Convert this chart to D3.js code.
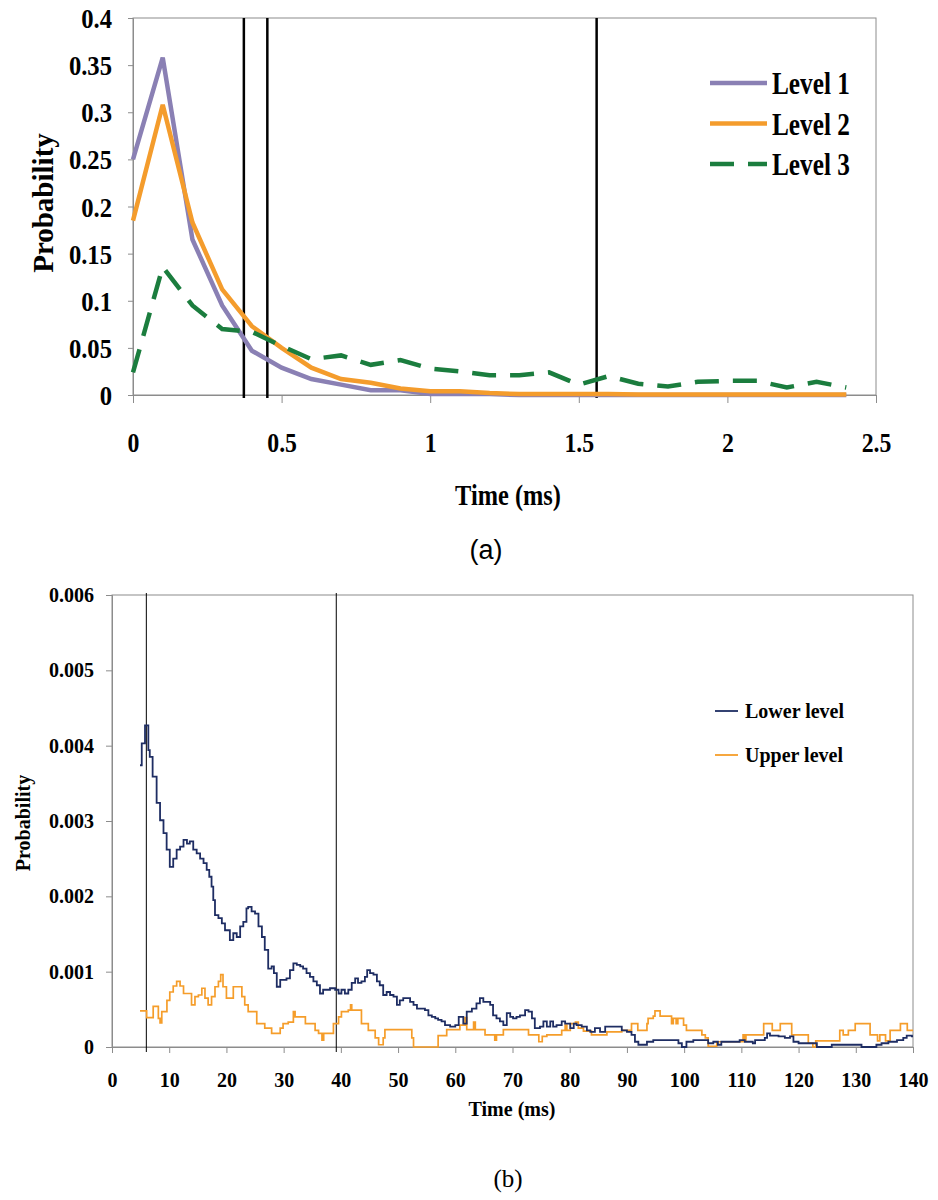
<!DOCTYPE html>
<html><head><meta charset="utf-8">
<script src="https://cdn.jsdelivr.net/npm/d3@7"></script>
<style>
body{margin:0;background:#fff;}
svg{display:block;}
.serif{font-family:"Liberation Serif","Times New Roman",serif;font-weight:bold;fill:#000;}
</style></head>
<body><svg id="chart" width="938" height="1200"></svg>
<script>
// ---------- Panel (a) data ----------
const timeA = [0,0.1,0.2,0.3,0.4,0.5,0.6,0.7,0.8,0.9,1.0,1.1,1.2,1.3,1.4,1.5,1.6,1.7,1.8,1.9,2.0,2.1,2.2,2.3,2.4];
const level1 = [0.25,0.358,0.165,0.095,0.047,0.029,0.017,0.011,0.005,0.005,0.001,0.001,0.001,0,0,0,0,0,0,0,0,0,0,0,0];
const level2 = [0.185,0.308,0.183,0.112,0.073,0.05,0.029,0.017,0.013,0.007,0.004,0.004,0.002,0.001,0.001,0.001,0.001,0.0005,0.0005,0.0005,0.0005,0.0005,0.0005,0.0005,0.0005];
const level3 = [0.024,0.136,0.095,0.07,0.067,0.052,0.038,0.042,0.032,0.037,0.028,0.025,0.021,0.021,0.024,0.011,0.02,0.012,0.009,0.014,0.015,0.015,0.008,0.014,0.008];
const markersA = [0.373,0.452,1.56];
const yTicksA = [0,0.05,0.1,0.15,0.2,0.25,0.3,0.35,0.4];
const yLabelsA = ["0","0.05","0.1","0.15","0.2","0.25","0.3","0.35","0.4"];
const xTicksA = [0,0.5,1,1.5,2,2.5];
const xLabelsA = ["0","0.5","1","1.5","2","2.5"];
const seriesNamesA = ["Level 1","Level 2","Level 3"];

// ---------- Panel (b) data (time ms, probability) ----------
const lowerT = [4.9,5.2,5.77,6.35,6.6,7.1,7.8,8.4,9.0,9.55,10.1,10.7,11.3,11.9,12.5,13.1,13.6,14.2,14.8,15.4,16.0,16.55,17.0,17.4,17.7,18.0,18.6,19.2,19.75,20.6,21.2,21.8,22.4,22.95,23.5,23.8,24.4,25.0,25.6,26.2,26.7,27.3,27.9,28.3,28.8,29.4,29.95,30.5,31.1,31.7,32.3,32.9,33.4,34.0,34.6,35.2,35.8,36.35,36.9,38.1,39.0,39.6,40.1,40.7,41.3,41.9,42.5,43.0,43.6,44.2,44.6,45.1,45.7,46.3,46.8,47.4,48.0,48.6,49.2,49.8,50.3,50.9,51.5,52.1,52.7,53.3,54.7,55.3,55.9,56.5,57.0,57.6,58.2,59.1,60.0,60.6,61.4,62.0,62.9,63.7,64.3,64.9,66.1,66.6,67.2,67.8,68.4,69.0,69.6,70.1,70.7,71.3,72.2,72.8,73.4,73.9,74.8,75.4,76.0,76.6,77.1,77.7,78.6,79.2,80.1,80.7,81.2,82.1,83.0,83.6,84.4,85.3,86.2,88.2,89.1,90.0,90.8,91.4,92.0,93.5,94.6,99.0,99.6,100.4,101.6,104.2,105.1,105.9,106.5,109.7,110.6,112.0,112.4,114.1,114.5,115.0,116.5,117.6,118.5,119.1,120.0,123.2,125.8,129.9,131.0,133.6,134.5,135.7,137.2,138.3,138.9,139.8,140];
const lowerV = [0.00374,0.00403,0.00427,0.00394,0.00385,0.00359,0.00324,0.00301,0.00284,0.00262,0.00239,0.0025,0.00262,0.00266,0.00275,0.0027,0.00273,0.00262,0.00257,0.0025,0.00244,0.00235,0.00226,0.00213,0.00195,0.00175,0.00171,0.00164,0.00155,0.00142,0.00151,0.00146,0.0016,0.00166,0.00184,0.00186,0.0018,0.00177,0.0016,0.00146,0.00129,0.00104,0.00107,0.00098,0.0008,0.00089,0.00089,0.00091,0.00102,0.00111,0.00109,0.00107,0.00104,0.00098,0.00093,0.00087,0.00082,0.00071,0.00076,0.00078,0.00076,0.00071,0.00076,0.00071,0.00076,0.00085,0.00091,0.00085,0.00087,0.00093,0.00102,0.00098,0.00096,0.00087,0.00082,0.00069,0.00073,0.00069,0.00067,0.00056,0.00062,0.00065,0.00065,0.0006,0.00056,0.00051,0.00049,0.00042,0.0004,0.00038,0.00036,0.00034,0.00029,0.00027,0.00029,0.0004,0.00031,0.00047,0.00051,0.00058,0.00065,0.0006,0.00056,0.00042,0.00038,0.00034,0.00029,0.00045,0.0004,0.00038,0.0004,0.00042,0.00049,0.00047,0.00038,0.00025,0.00027,0.00034,0.00027,0.00034,0.00027,0.00029,0.00034,0.00031,0.00025,0.00031,0.00029,0.00027,0.00022,0.0002,0.00025,0.0002,0.00027,0.00027,0.00022,0.0002,0.00016,0.00007,0.00003,0.00007,0.00009,0.00005,0,0.00007,0.00009,0.00005,0.00007,0.00003,0.00007,0.00009,0.00007,0.00005,0.00009,0.00012,0.00018,0.00015,0.00014,0.00012,0.00014,0.00007,0.00005,0,0.00003,0.00003,0,0.00003,0.00005,0.00007,0.00009,0.00012,0.00015,0.00014,0.00014];
const upperT = [4.9,6.06,7.2,8.1,8.4,8.7,9.6,10.1,10.7,11.3,11.9,12.5,13.9,14.5,15.1,15.7,16.25,16.8,17.4,18.0,18.6,19.0,19.4,20.0,21.2,22.7,23.2,23.8,25.3,26.7,27.9,29.4,29.9,30.8,31.7,32.0,33.8,35.5,36.1,36.7,37.0,38.7,39.6,40.1,41.3,41.7,41.9,43.6,44.8,46.0,46.6,47.4,47.7,52.4,52.7,57.0,58.5,60.8,61.7,62.0,63.2,63.5,65.2,66.9,67.2,68.4,72.8,74.6,75.2,76.0,78.6,79.2,79.5,80.1,81.0,81.5,82.4,83.8,86.5,89.1,90.8,91.9,93.5,93.7,94.6,94.9,95.8,97.8,98.1,98.6,98.9,99.9,100.4,103.1,103.7,104.2,105.7,110.3,110.6,110.8,113.9,115.4,116.8,118.8,121.7,122.5,123.0,127.2,127.8,128.7,129.9,132.5,133.8,134.2,135.2,136.0,137.8,139.0,140];
const upperV = [0.00048,0.00039,0.00054,0.00038,0.00032,0.00047,0.00062,0.00073,0.00081,0.00087,0.00081,0.00071,0.00056,0.00067,0.00069,0.00078,0.00065,0.00056,0.00067,0.0008,0.00087,0.00096,0.0008,0.00065,0.0008,0.00067,0.00056,0.00047,0.00031,0.00025,0.00018,0.00025,0.00031,0.00033,0.00047,0.0004,0.00031,0.00022,0.00018,0.00009,0.00018,0.00031,0.0004,0.00047,0.00049,0.00056,0.00049,0.00031,0.00022,0.00012,0.00003,0.00012,0.00023,0.00012,0,0.00015,0.00023,0.00029,0.00039,0.00023,0.00033,0.00023,0.00016,0.00009,0.00016,0.00023,0.00016,0.00007,0.00014,0.00016,0.00022,0.00029,0.00022,0.00031,0.00033,0.00025,0.00021,0.00016,0.0002,0.00022,0.00031,0.00022,0.00031,0.00038,0.00041,0.00048,0.00041,0.00031,0.00038,0.00031,0.00038,0.00029,0.00022,0.00016,0.00012,0.00001,0.00007,0.00016,0.00009,0.00016,0.00031,0.00022,0.00031,0.00016,0.00005,0,0.00008,0.00022,0.00016,0.00022,0.00031,0.00016,0.00008,0.00016,0.00008,0.00022,0.00031,0.00022,0.00022];
const markersB = [6,39.2];
const yTicksB = [0,0.001,0.002,0.003,0.004,0.005,0.006];
const yLabelsB = ["0","0.001","0.002","0.003","0.004","0.005","0.006"];
const xTicksB = [0,10,20,30,40,50,60,70,80,90,100,110,120,130,140];
const xLabelsB = ["0","10","20","30","40","50","60","70","80","90","100","110","120","130","140"];
const seriesNamesB = ["Lower level","Upper level"];

const svg = d3.select("#chart");
const GRID = "#8c8c8c";

function styleAxis(g){
  g.selectAll(".domain").attr("stroke",GRID);
  g.selectAll(".tick line").attr("stroke",GRID);
  g.selectAll("text").attr("class","serif").attr("fill","#000");
}
// horizontally condense text (the original uses a narrow bold serif)
function condense(sel, f){
  sel.each(function(){
    const w = this.getComputedTextLength();
    d3.select(this).attr("textLength", w*f).attr("lengthAdjust","spacingAndGlyphs");
  });
}

// ================= Panel (a) =================
const xA = d3.scaleLinear().domain([0,2.5]).range([133,876]);
const yA = d3.scaleLinear().domain([0,0.4]).range([395,18]);
const gA = svg.append("g");
gA.append("rect").attr("x",xA(0)).attr("y",yA(0.4)).attr("width",xA(2.5)-xA(0)).attr("height",yA(0)-yA(0.4))
  .attr("fill","none").attr("stroke",GRID);

const axA_y = gA.append("g").attr("transform",`translate(${xA(0)},0)`)
  .call(d3.axisLeft(yA).tickValues(yTicksA).tickFormat((d,i)=>yLabelsA[i]).tickSize(5).tickPadding(16));
styleAxis(axA_y);
axA_y.selectAll("text").attr("font-size",28).attr("dy","0.34em");
condense(axA_y.selectAll("text"),0.88);
const axA_x = gA.append("g").attr("transform",`translate(0,${yA(0)})`)
  .call(d3.axisBottom(xA).tickValues(xTicksA).tickFormat((d,i)=>xLabelsA[i]).tickSize(8).tickPadding(29));
styleAxis(axA_x);
axA_x.selectAll("text").attr("font-size",28);
condense(axA_x.selectAll("text"),0.85);

// marker lines
gA.selectAll("line.markA").data(markersA).join("line").attr("class","markA")
  .attr("x1",d=>xA(d)).attr("x2",d=>xA(d)).attr("y1",yA(0.4)).attr("y2",yA(0)+3)
  .attr("stroke","#000").attr("stroke-width",2.5);

const colorsA = ["#8a80b4","#f49c2c","#1b7d3e"];
const dashA = [null,null,"24,14"];
const valsA = [level1,level2,level3];
const lineA = d3.line().x((d,i)=>xA(timeA[i])).y(d=>yA(d));
valsA.forEach((vals,k)=>{
  gA.append("path").datum(vals).attr("d",lineA).attr("fill","none")
    .attr("stroke",colorsA[k]).attr("stroke-width",4.5).attr("stroke-dasharray",dashA[k]);
});

// legend a
const legA = gA.append("g");
seriesNamesA.forEach((name,k)=>{
  const y = 83 + k*40.5;
  legA.append("line").attr("x1",710).attr("x2",767).attr("y1",y).attr("y2",y)
    .attr("stroke",colorsA[k]).attr("stroke-width",4.5).attr("stroke-dasharray",dashA[k]);
  legA.append("text").attr("class","serif").attr("x",772).attr("y",y+11)
    .attr("font-size",32).text(name);
});
condense(legA.selectAll("text"),0.79);

gA.append("text").attr("class","serif").attr("transform","translate(53,203) rotate(-90)")
  .attr("text-anchor","middle").attr("font-size",29).text("Probability");
const tA = gA.append("text").attr("class","serif").attr("x",508).attr("y",505)
  .attr("text-anchor","middle").attr("font-size",29).text("Time (ms)");
condense(tA,0.84);
gA.append("text").attr("x",486).attr("y",559).attr("text-anchor","middle")
  .attr("font-family","'Liberation Sans',Arial,sans-serif").attr("font-size",27).text("(a)");

// ================= Panel (b) =================
const xB = d3.scaleLinear().domain([0,140]).range([112,913]);
const yB = d3.scaleLinear().domain([0,0.006]).range([1047,595]);
const gB = svg.append("g");
gB.append("rect").attr("x",xB(0)).attr("y",yB(0.006)).attr("width",xB(140)-xB(0)).attr("height",yB(0)-yB(0.006))
  .attr("fill","none").attr("stroke",GRID);
const axB_y = gB.append("g").attr("transform",`translate(${xB(0)},0)`)
  .call(d3.axisLeft(yB).tickValues(yTicksB).tickFormat((d,i)=>yLabelsB[i]).tickSize(6).tickPadding(12));
styleAxis(axB_y);
axB_y.selectAll("text").attr("font-size",20);
const axB_x = gB.append("g").attr("transform",`translate(0,${yB(0)})`)
  .call(d3.axisBottom(xB).tickValues(xTicksB).tickFormat((d,i)=>xLabelsB[i]).tickSize(6).tickPadding(20));
styleAxis(axB_x);
axB_x.selectAll("text").attr("font-size",20);

gB.selectAll("line.markB").data(markersB).join("line").attr("class","markB")
  .attr("x1",d=>xB(d)).attr("x2",d=>xB(d)).attr("y1",yB(0.006)-2).attr("y2",yB(0)+5)
  .attr("stroke","#000").attr("stroke-width",1);

const colorsB = ["#1e2d63","#f59d2a"];
const stepLine = (T)=>d3.line().curve(d3.curveStepAfter).x((d,i)=>xB(T[i])).y(d=>yB(d));
gB.append("path").datum(upperV).attr("d",stepLine(upperT)).attr("fill","none")
  .attr("stroke",colorsB[1]).attr("stroke-width",1.7);
gB.append("path").datum(lowerV).attr("d",stepLine(lowerT)).attr("fill","none")
  .attr("stroke",colorsB[0]).attr("stroke-width",1.8);

const legB = gB.append("g");
seriesNamesB.forEach((name,k)=>{
  const y = 711 + k*44;
  legB.append("line").attr("x1",715).attr("x2",738).attr("y1",y).attr("y2",y)
    .attr("stroke",colorsB[k]).attr("stroke-width",1.8);
  legB.append("text").attr("class","serif").attr("x",745).attr("y",y+7)
    .attr("font-size",20).text(name);
});

gB.append("text").attr("class","serif").attr("transform","translate(30,823) rotate(-90)")
  .attr("text-anchor","middle").attr("font-size",20).text("Probability");
gB.append("text").attr("class","serif").attr("x",512).attr("y",1116)
  .attr("text-anchor","middle").attr("font-size",20).text("Time (ms)");
gB.append("text").attr("x",508).attr("y",1187).attr("text-anchor","middle")
  .attr("font-family","'Liberation Serif','Times New Roman',serif").attr("font-size",25).text("(b)");
</script></body></html>
